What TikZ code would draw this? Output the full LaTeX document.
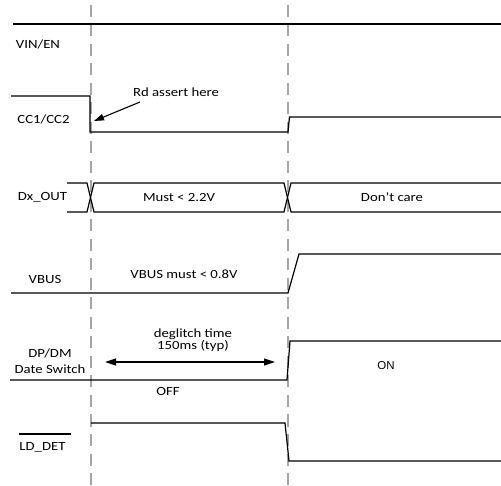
\documentclass[tikz,border=0pt]{standalone}
\usepackage{fontspec}
\setmainfont[FakeStretch=1.18]{Carlito}
\newfontfamily\arialf{Liberation Sans}
\usetikzlibrary{arrows.meta}
\definecolor{gridgrey}{HTML}{A6A6A6}
\tikzset{
  guide/.style={draw=gridgrey, line width=1.5pt, dash pattern=on 12pt off 7.5pt},
  wave/.style={draw=black, line width=1.2pt, line join=miter},
  lbl/.style={font=\fontsize{12.5}{16}\selectfont, inner sep=0pt, align=center},
  note/.style={font=\fontsize{12.5}{11}\selectfont, inner sep=0pt, align=center},
  arialtxt/.style={font=\arialf\fontsize{11.5}{14}\selectfont, inner sep=0pt},
  pointer/.style={draw=black, line width=1.1pt, -{Triangle[length=10pt,width=6.5pt]}},
  span/.style={draw=black, line width=1.1pt, {Triangle[length=11pt,width=7pt]}-{Triangle[length=11pt,width=7pt]}}
}
\begin{document}
\begin{tikzpicture}[x=1pt,y=-1pt]
\useasboundingbox (0,0) rectangle (501,486);
% guide lines
\coordinate (g1t) at (91,5);  \coordinate (g1b) at (91,486);
\coordinate (g2t) at (288,5); \coordinate (g2b) at (288,486);
\path[guide] (g1t) -- (g1b);
\path[guide] (g2t) -- (g2b);
% VIN/EN
\node[lbl] (vin) at (38,44) {VIN/EN};
\path[wave] (13,24) -- (501,24);
% CC1/CC2
\node[lbl] (cc) at (43.5,119) {CC1/CC2};
\path[wave] (11,96) -- (90,96) -- (90,132) -- (288,132) -- (289.5,117) -- (501,117);
\node[lbl] (rd) at (176,92) {Rd assert here};
\coordinate (rdtip) at (94,121);
\draw[pointer] (140,102) -- (rdtip);
% Dx_OUT
\node[lbl] (dx) at (42.5,197) {Dx\_OUT};
\path[wave] (67,183) -- (87,183) -- (94,212) -- (284,212) -- (291,183) -- (501,183);
\path[wave] (67,212) -- (87,212) -- (94,183) -- (284,183) -- (291,212) -- (501,212);
\node[lbl] (must) at (179,197) {Must < 2.2V};
\node[lbl] (dc) at (392,197) {Don’t care};
% VBUS
\node[lbl] (vbus) at (45,279) {VBUS};
\path[wave] (11,293) -- (288,293) -- (299,254) -- (501,254);
\node[lbl] (vbm) at (184,274) {VBUS must < 0.8V};
% DP/DM
\node[lbl] (dp) at (50,361) {DP/DM\\Date Switch};
\path[wave] (10,380) -- (287,380) -- (290,341) -- (501,341);
\node[note] (dg) at (193,340) {deglitch time\\150ms (typ)};
\coordinate (al) at (105,362);
\coordinate (ar) at (275,362);
\draw[span] (al) -- (ar);
\node[lbl] (off) at (168,391) {OFF};
\node[arialtxt] (on) at (386,366) {ON};
% LD_DET
\node[lbl] (ld) at (42.5,447) {LD\_DET};
\draw[line width=1.1pt] (19,434) -- (71,434);
\path[wave] (91,423) -- (285,423) -- (289,461) -- (501,461);
\end{tikzpicture}
\end{document}
